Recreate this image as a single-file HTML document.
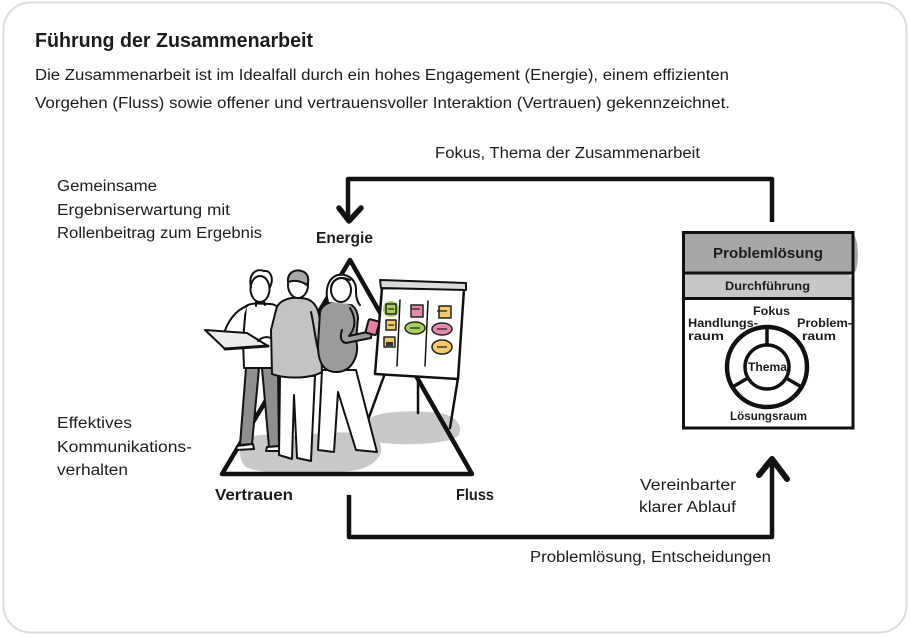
<!DOCTYPE html>
<html>
<head>
<meta charset="utf-8">
<style>
html,body{margin:0;padding:0;background:#fff;}
svg{display:block;}
text{font-family:"Liberation Sans",Arial,sans-serif;fill:#1c1c1c;}
.b{font-weight:bold;}
.ill{stroke:#111;stroke-width:2;stroke-linecap:round;stroke-linejoin:round;}
</style>
</head>
<body>
<svg width="910" height="637" viewBox="0 0 910 637" xmlns="http://www.w3.org/2000/svg">
  <!-- card -->
  <rect x="3.5" y="2.5" width="903" height="630" rx="27" fill="#fff" stroke="#dcdcdc" stroke-width="2"/>

  <!-- header text -->
  <text x="35" y="47" font-size="20" class="b" textLength="278" lengthAdjust="spacingAndGlyphs">Führung der Zusammenarbeit</text>
  <text x="35" y="80" font-size="15.5" textLength="694" lengthAdjust="spacingAndGlyphs">Die Zusammenarbeit ist im Idealfall durch ein hohes Engagement (Energie), einem effizienten</text>
  <text x="35" y="108" font-size="15.5" textLength="695" lengthAdjust="spacingAndGlyphs">Vorgehen (Fluss) sowie offener und vertrauensvoller Interaktion (Vertrauen) gekennzeichnet.</text>

  <!-- top connector -->
  <text x="435" y="158" font-size="15.5" textLength="265" lengthAdjust="spacingAndGlyphs">Fokus, Thema der Zusammenarbeit</text>
  <path d="M348 220 L348 179 L772 179 L772 222" fill="none" stroke="#111" stroke-width="4.5" stroke-linejoin="round"/>
  <path d="M339 208 L349 221 L361 208" fill="none" stroke="#111" stroke-width="5.5" stroke-linecap="round" stroke-linejoin="round"/>

  <!-- left texts -->
  <text x="57" y="191" font-size="15.5" textLength="100" lengthAdjust="spacingAndGlyphs">Gemeinsame</text>
  <text x="57" y="215" font-size="15.5" textLength="173" lengthAdjust="spacingAndGlyphs">Ergebniserwartung mit</text>
  <text x="57" y="238" font-size="15.5" textLength="205" lengthAdjust="spacingAndGlyphs">Rollenbeitrag zum Ergebnis</text>

  <text x="57" y="428" font-size="15.5" textLength="75" lengthAdjust="spacingAndGlyphs">Effektives</text>
  <text x="57" y="452" font-size="15.5" textLength="135" lengthAdjust="spacingAndGlyphs">Kommunikations-</text>
  <text x="57" y="475" font-size="15.5" textLength="71" lengthAdjust="spacingAndGlyphs">verhalten</text>

  <text x="316" y="243" font-size="15.5" class="b" textLength="57" lengthAdjust="spacingAndGlyphs">Energie</text>
  <text x="215" y="500" font-size="15.5" class="b" textLength="78" lengthAdjust="spacingAndGlyphs">Vertrauen</text>
  <text x="456" y="500" font-size="15.5" class="b" textLength="38" lengthAdjust="spacingAndGlyphs">Fluss</text>

  <!-- shadows -->
  <path d="M240 448 C236 436 262 432 300 436 C330 431 366 430 379 441 C386 453 376 468 350 471 C310 475 262 475 246 467 C240 462 240 455 240 448 Z" fill="#c9c9c9"/>
  <path d="M366 425 C366 412 400 410 430 412 C455 413 463 424 459 435 C451 445 400 446 376 442 C366 440 364 432 366 425 Z" fill="#c9c9c9"/>

  <!-- triangle -->
  <polygon points="350,260 222,474 472,474" fill="none" stroke="#111" stroke-width="4.5" stroke-linejoin="round"/>

  <!-- flipchart -->
  <g class="ill">
    <path d="M384 376 L368 420" fill="none" stroke-width="2.5"/>
    <path d="M418 378 L418 413" fill="none" stroke-width="2.5"/>
    <path d="M458 378 L450 428" fill="none" stroke-width="2.5"/>
    <path d="M382 288 L464 289 L458 379 L375 374 Z" fill="#fff" stroke-width="2.5"/>
    <path d="M380 280 L466 283 L466 290 L381 288 Z" fill="#dcdcdc"/>
    <path d="M400 300 L397 366" fill="none" stroke-width="1.5"/>
    <path d="M428 301 L425 366" fill="none" stroke-width="1.5"/>
  </g>
  <!-- sticky notes -->
  <g stroke-linejoin="round">
    <ellipse cx="391" cy="309" rx="8" ry="8" fill="#a6d15e"/>
    <rect x="386" y="304" width="10" height="10" fill="#a6d15e" stroke="#222" stroke-width="1.5"/>
    <rect x="386" y="320" width="10" height="10" fill="#f5c96c" stroke="#222" stroke-width="1.5"/>
    <rect x="384" y="337" width="11" height="10" fill="#f3c55e" stroke="#222" stroke-width="1.5"/>
    <rect x="386" y="342" width="7" height="4" fill="#333"/>
    <rect x="411" y="305" width="12" height="12" fill="#e888ae" stroke="#222" stroke-width="1.5"/>
    <ellipse cx="415" cy="328" rx="10" ry="6" fill="#a6d15e" stroke="#222" stroke-width="1.5"/>
    <rect x="439" y="306" width="12" height="12" fill="#f5c96c" stroke="#222" stroke-width="1.5"/>
    <ellipse cx="442" cy="329" rx="10" ry="6" fill="#e888ae" stroke="#222" stroke-width="1.5"/>
    <ellipse cx="442" cy="347" rx="10" ry="7" fill="#f5c96c" stroke="#222" stroke-width="1.5"/>
    <path d="M412 309 L420 309 M437 311 L447 311 M410 328 L420 328 M437 329 L447 329 M437 347 L447 347 M388 309 L394 309 M388 325 L394 325" stroke="#222" stroke-width="1.2"/>
  </g>

  <!-- person 1 (laptop) -->
  <g class="ill">
    <path d="M246 368 L259 368 L252 444 L240 445 Z" fill="#8f8f8f"/>
    <path d="M262 368 L278 368 L279 446 L269 447 Z" fill="#8f8f8f"/>
    <path d="M237 446 L253 444 L254 449 L236 450 Z" fill="#fff"/>
    <path d="M267 447 L280 446 L281 451 L266 451 Z" fill="#fff"/>
    <path d="M246 306 C252 302 262 304 270 304 C277 304 282 310 283 318 L280 368 L244 368 L243 340 Z" fill="#fff"/>
    <path d="M247 306 C236 310 226 322 223 338 C222 345 228 349 233 346" fill="#fff"/>
    <path d="M205 330 L247 333 L268 346 L225 349 Z" fill="#ececec"/>
    <path d="M225 349 L268 346" fill="none" stroke-width="3"/>
    <path d="M258 341 C263 336 270 336 273 340" fill="none"/>
    <ellipse cx="260" cy="289" rx="9.5" ry="13" fill="#fff"/>
    <path d="M251 287 C248 274 256 268 264 271 C271 270 274 279 270 287" fill="none"/>
    <path d="M256 301 L256 306 M264 301 L265 305" fill="none"/>
  </g>

  <!-- person 2 (middle, back) -->
  <g class="ill">
    <path d="M280 376 L279 455 L292 459 L294 395 L297 458 L311 461 L315 376 Z" fill="#fff"/>
    <path d="M276 310 C278 300 290 297 300 298 C312 298 318 305 320 320 L322 372 C310 379 285 379 272 374 L271 330 Z" fill="#c3c3c3"/>
    <path d="M311 312 C315 330 316 348 322 362" fill="none"/>
    <ellipse cx="298" cy="285" rx="10" ry="13" fill="#fff"/>
    <path d="M288 282 C287 272 296 268 304 272 C309 275 309 281 307 285 C300 280 294 280 288 282 Z" fill="#a8a8a8"/>
  </g>

  <!-- person 3 (woman) -->
  <g class="ill">
    <path d="M322 370 L318 450 L334 452 L338 392 L356 450 L377 452 L356 370 Z" fill="#fff"/>
    <path d="M320 312 C322 304 332 300 340 302 C350 302 357 306 358 318 L356 340 C360 355 352 371 338 372 C322 373 318 360 318 345 Z" fill="#9b9b9b"/>
    <path d="M350 308 C356 318 356 328 349 336 L372 331 L371 338 L346 343 C340 342 340 336 342 330" fill="#9b9b9b"/>
    <rect x="367" y="320" width="11" height="14" rx="1.5" fill="#e77fa6" transform="rotate(15 372 327)"/>
    <path d="M328 302 C325 292 327 278 338 275 C350 273 357 282 356 292 C356 298 358 303 360 305" fill="#fff"/>
    <ellipse cx="341" cy="290" rx="10" ry="12" fill="#fff"/>
    <path d="M331 287 C333 278 342 276 350 280" fill="none"/>
  </g>

  <!-- bottom connector -->
  <path d="M349 495 L349 537 L772 537 L772 462" fill="none" stroke="#111" stroke-width="4.5" stroke-linejoin="round"/>
  <path d="M759 475 L772 459 L787 479" fill="none" stroke="#111" stroke-width="6" stroke-linecap="round" stroke-linejoin="round"/>
  <text x="640" y="490" font-size="15.5" textLength="96" lengthAdjust="spacingAndGlyphs">Vereinbarter</text>
  <text x="639" y="512" font-size="15.5" textLength="97" lengthAdjust="spacingAndGlyphs">klarer Ablauf</text>
  <text x="530" y="562" font-size="15.5" textLength="241" lengthAdjust="spacingAndGlyphs">Problemlösung, Entscheidungen</text>

  <!-- right box -->
  <path d="M684 233 L852 233 C859 236 860 268 854 273 L684 273 Z" fill="#a7a7a7"/>
  <path d="M684 274 L848 274 C854 277 854 294 850 298 L684 298 Z" fill="#c7c7c7"/>
  <rect x="683.5" y="232.5" width="169.5" height="195.5" fill="none" stroke="#111" stroke-width="3"/>
  <path d="M683 273 L853 273 M683 298.5 L853 298.5" stroke="#111" stroke-width="3"/>
  <text x="713" y="258" font-size="15" class="b" textLength="110" lengthAdjust="spacingAndGlyphs">Problemlösung</text>
  <text x="725" y="290" font-size="12" class="b" textLength="85" lengthAdjust="spacingAndGlyphs">Durchführung</text>

  <circle cx="767" cy="367" r="40" fill="none" stroke="#111" stroke-width="4.5"/>
  <circle cx="767" cy="367" r="22" fill="none" stroke="#111" stroke-width="3.5"/>
  <path d="M767 327 L767 345 M732.5 387 L748 378 M801.5 387 L786 378" stroke="#111" stroke-width="3.5"/>

  <text x="753" y="315" font-size="12" class="b" textLength="37" lengthAdjust="spacingAndGlyphs">Fokus</text>
  <text x="688" y="327" font-size="12" class="b" textLength="70" lengthAdjust="spacingAndGlyphs">Handlungs-</text>
  <text x="688" y="340" font-size="12" class="b" textLength="36" lengthAdjust="spacingAndGlyphs">raum</text>
  <text x="797" y="327" font-size="12" class="b" textLength="55" lengthAdjust="spacingAndGlyphs">Problem-</text>
  <text x="802" y="340" font-size="12" class="b" textLength="34" lengthAdjust="spacingAndGlyphs">raum</text>
  <text x="748" y="371" font-size="12" class="b" textLength="39" lengthAdjust="spacingAndGlyphs">Thema</text>
  <text x="730" y="420" font-size="12" class="b" textLength="77" lengthAdjust="spacingAndGlyphs">Lösungsraum</text>
</svg>
</body>
</html>
